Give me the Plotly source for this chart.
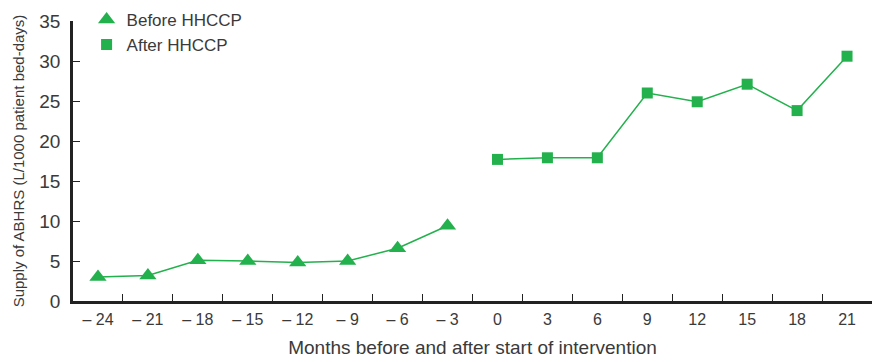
import plotly.graph_objects as go

# Months relative to start of intervention
months_before = [-24, -21, -18, -15, -12, -9, -6, -3]
months_after = [0, 3, 6, 9, 12, 15, 18, 21]

# ABHRS supply (L/1000 patient bed-days)
supply_before = [3.0, 3.2, 5.1, 5.0, 4.8, 5.0, 6.6, 9.4]
supply_after = [17.7, 17.9, 17.9, 26.0, 24.9, 27.1, 23.8, 30.6]

y_ticks = [0, 5, 10, 15, 20, 25, 30, 35]


def month_label(m):
    return f"\u2013 {abs(m)}" if m < 0 else str(m)


all_months = months_before + months_after
categories = [month_label(m) for m in all_months]
cat_before = [month_label(m) for m in months_before]
cat_after = [month_label(m) for m in months_after]

GREEN = "#22b14c"
TEXT = "#3a3a3a"
FONT = "Liberation Sans"

fig = go.Figure()

fig.add_trace(go.Scatter(
    x=cat_before, y=supply_before, mode="lines+markers",
    line=dict(color=GREEN, width=1.5),
    marker=dict(symbol="triangle-up", size=15, color=GREEN),
    showlegend=False, name="Before HHCCP",
))
fig.add_trace(go.Scatter(
    x=cat_after, y=supply_after, mode="lines+markers",
    line=dict(color=GREEN, width=1.5),
    marker=dict(symbol="square", size=11, color=GREEN),
    showlegend=False, name="After HHCCP",
))

# Legend entries show markers only
fig.add_trace(go.Scatter(
    x=[None], y=[None], mode="markers", name="Before HHCCP",
    marker=dict(symbol="triangle-up", size=15, color=GREEN),
))
fig.add_trace(go.Scatter(
    x=[None], y=[None], mode="markers", name="After HHCCP",
    marker=dict(symbol="square", size=11, color=GREEN),
))

fig.update_layout(
    width=879, height=362,
    margin=dict(l=73, r=7, t=21, b=61, autoexpand=False),
    paper_bgcolor="white", plot_bgcolor="white",
    font=dict(family=FONT, color=TEXT),
    legend=dict(
        x=0.017, y=1.068, xanchor="left", yanchor="top",
        font=dict(size=17, color=TEXT, family=FONT),
        bgcolor="rgba(0,0,0,0)", itemsizing="trace",
        tracegroupgap=0, itemwidth=30,
    ),
)

fig.update_xaxes(
    type="category", categoryorder="array", categoryarray=categories,
    range=[-0.5, len(categories) - 0.5],
    tickson="boundaries", ticks="inside", ticklen=7, tickwidth=1.2,
    tickcolor="#222",
    showline=True, linecolor="#222", linewidth=2.5,
    showgrid=False, zeroline=False,
    tickfont=dict(size=16, color=TEXT, family=FONT),
    ticklabelstandoff=2,
    title=dict(text="Months before and after start of intervention",
               font=dict(size=19, color=TEXT, family=FONT), standoff=14),
)

fig.update_yaxes(
    range=[0, 35], tickvals=y_ticks,
    ticks="inside", ticklen=7, tickwidth=1.2, tickcolor="#222",
    showline=True, linecolor="#222", linewidth=2.5,
    showgrid=False, zeroline=False,
    tickfont=dict(size=19, color=TEXT, family=FONT),
    ticklabelstandoff=6,
    title=dict(text="Supply of ABHRS (L/1000 patient bed-days)",
               font=dict(size=15, color=TEXT, family=FONT), standoff=12),
)

fig.write_html("out.html")
